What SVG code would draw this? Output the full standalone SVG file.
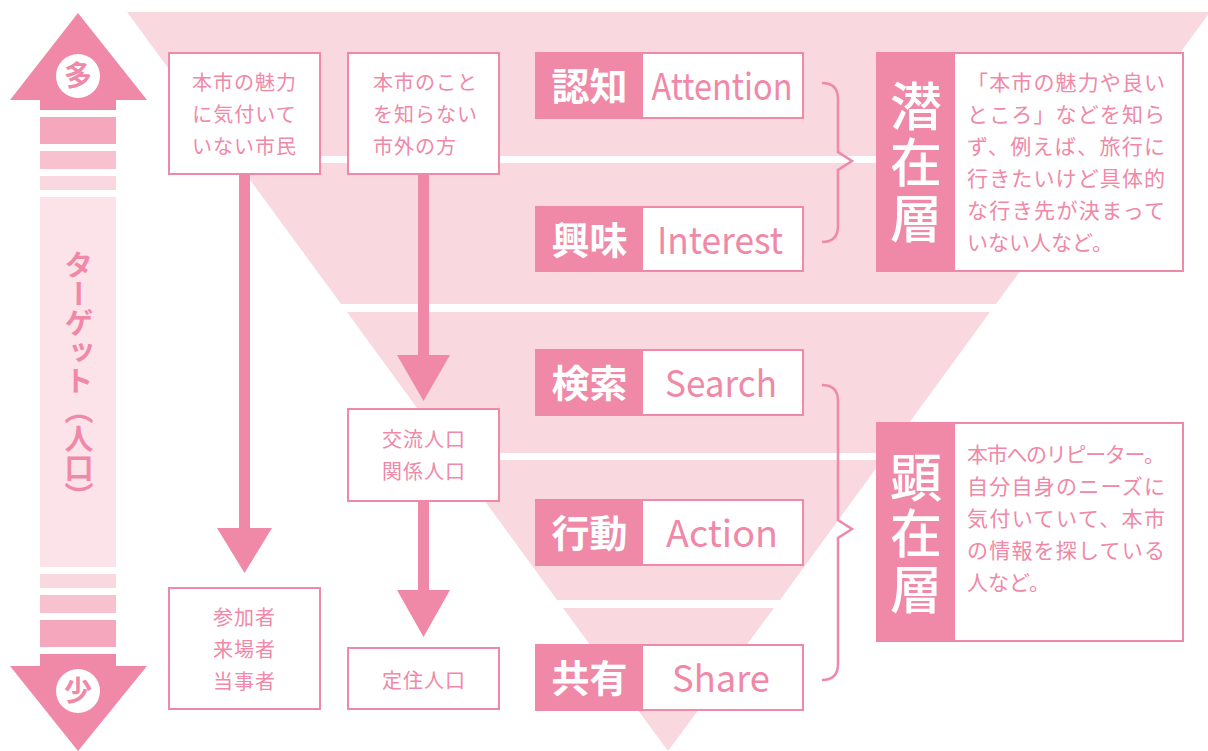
<svg xmlns="http://www.w3.org/2000/svg" width="1208" height="751" viewBox="0 0 1208 751">
<defs><style>
.pk{fill:#f088a7}
.fun{fill:#f9d8e0}
.bx{fill:#fff;stroke:#f088a7;stroke-width:2}
.jp{font-family:"Noto Sans CJK JP","Noto Sans",sans-serif}
.tp{fill:#f088a7}
.tw{fill:#fff}
.br{fill:none;stroke:#f088a7;stroke-width:2.5;stroke-linejoin:miter}
.lbl{font-size:38px;font-weight:700;fill:#fff;text-anchor:middle}
.en{font-size:37px;fill:#f088a7;text-anchor:middle}
.sm{font-size:20px;fill:#f088a7}
.ds{font-size:21px;fill:#f088a7}
.lay{font-size:52px;font-weight:500;fill:#fff;text-anchor:middle;writing-mode:vertical-rl;letter-spacing:4px}
</style></defs>
<rect width="1208" height="751" fill="#fff"/>

<g id="funnel">
<polygon class="fun" points="127,12 1210,12 996,304 341,304"/>
<polygon class="fun" points="347,312 990,312 780,600 557,600"/>
<polygon class="fun" points="563,608 774,608 668,751"/>
<rect x="150" y="156" width="1058" height="7" fill="#fff"/>
<rect x="150" y="453" width="1058" height="7" fill="#fff"/>
</g>

<g id="scale-arrow">
<polygon class="pk" points="78,13 147,100 10,100"/>
<rect class="pk" x="40" y="99" width="76" height="11"/>
<rect x="40" y="117" width="76" height="27" fill="#f5a8bd"/>
<rect x="40" y="151" width="76" height="18" fill="#f8c1cf"/>
<rect x="40" y="176" width="76" height="14" fill="#f9d8e0"/>
<rect x="40" y="197" width="76" height="370" fill="#fce3ea"/>
<rect x="40" y="574" width="76" height="14" fill="#f9d8e0"/>
<rect x="40" y="595" width="76" height="18" fill="#f8c1cf"/>
<rect x="40" y="620" width="76" height="27" fill="#f5a8bd"/>
<rect class="pk" x="40" y="654" width="76" height="13"/>
<polygon class="pk" points="10,666 147,666 78,751"/>
<circle cx="78" cy="76" r="22" fill="#fff"/>
<text class="jp tp" x="78" y="86" text-anchor="middle" font-size="28" font-weight="700">多</text>
<circle cx="78" cy="691" r="22" fill="#fff"/>
<text class="jp tp" x="78" y="701" text-anchor="middle" font-size="28" font-weight="700">少</text>
<text class="jp tp" x="79" y="381" style="writing-mode:vertical-rl" text-anchor="middle" font-size="29" font-weight="700">ターゲット（人口）</text>
</g>

<g id="connectors">
<rect class="pk" x="239" y="174" width="11" height="356"/>
<polygon class="pk" points="217,528 272,528 244.5,573"/>
<rect class="pk" x="418" y="174" width="11" height="183"/>
<polygon class="pk" points="397,355 450,355 423.5,401"/>
<rect class="pk" x="418" y="500" width="11" height="92"/>
<polygon class="pk" points="397,590 450,590 423.5,637"/>
<path class="br" d="M822,83 Q838,83 838,99 L838,152 L852,161 L838,170 L838,226 Q838,242 822,242"/>
<path class="br" d="M822,385 Q838,385 838,401 L838,520 L852,529 L838,538 L838,664 Q838,680 822,680"/>
</g>

<g id="node-unaware-citizens">
<rect class="bx" x="169" y="53" width="151" height="121"/>
<text class="jp sm" x="244.5" text-anchor="middle" letter-spacing="1"><tspan x="244.5" y="90">本市の魅力</tspan><tspan x="244.5" y="122">に気付いて</tspan><tspan x="244.5" y="154">いない市民</tspan></text>
</g>

<g id="node-outsiders">
<rect class="bx" x="348" y="53" width="151" height="121"/>
<text class="jp sm" letter-spacing="1"><tspan x="373" y="90">本市のこと</tspan><tspan x="373" y="122">を知らない</tspan><tspan x="373" y="154">市外の方</tspan></text>
</g>

<g id="node-exchange">
<rect class="bx" x="348" y="409" width="151" height="92"/>
<text class="jp sm" text-anchor="middle" letter-spacing="1"><tspan x="424" y="447">交流人口</tspan><tspan x="424" y="479">関係人口</tspan></text>
</g>

<g id="node-participants">
<rect class="bx" x="169" y="588" width="151" height="121"/>
<text class="jp sm" text-anchor="middle" letter-spacing="1"><tspan x="244.5" y="625">参加者</tspan><tspan x="244.5" y="657">来場者</tspan><tspan x="244.5" y="689">当事者</tspan></text>
</g>

<g id="node-settled">
<rect class="bx" x="348" y="648" width="151" height="61"/>
<text class="jp sm" x="424" y="688" text-anchor="middle" letter-spacing="1">定住人口</text>
</g>

<g id="stage-attention">
<rect class="bx" x="536" y="53" width="267" height="65"/>
<rect class="pk" x="536" y="53" width="107" height="65"/>
<text class="jp lbl" x="589.5" y="100">認知</text>
<text class="jp en" x="722" y="100" textLength="141" lengthAdjust="spacingAndGlyphs">Attention</text>
</g>

<g id="stage-interest">
<rect class="bx" x="536" y="207" width="267" height="64"/>
<rect class="pk" x="536" y="207" width="107" height="64"/>
<text class="jp lbl" x="589.5" y="254">興味</text>
<text class="jp en" x="720" y="254" textLength="126" lengthAdjust="spacingAndGlyphs">Interest</text>
</g>

<g id="stage-search">
<rect class="bx" x="536" y="350" width="267" height="65"/>
<rect class="pk" x="536" y="350" width="107" height="65"/>
<text class="jp lbl" x="589.5" y="397">検索</text>
<text class="jp en" x="721" y="397" textLength="112" lengthAdjust="spacingAndGlyphs">Search</text>
</g>

<g id="stage-action">
<rect class="bx" x="536" y="500" width="267" height="65"/>
<rect class="pk" x="536" y="500" width="107" height="65"/>
<text class="jp lbl" x="589.5" y="547">行動</text>
<text class="jp en" x="722" y="547" textLength="112" lengthAdjust="spacingAndGlyphs">Action</text>
</g>

<g id="stage-share">
<rect class="bx" x="536" y="645" width="267" height="65"/>
<rect class="pk" x="536" y="645" width="107" height="65"/>
<text class="jp lbl" x="589.5" y="692">共有</text>
<text class="jp en" x="721" y="692" textLength="98" lengthAdjust="spacingAndGlyphs">Share</text>
</g>

<g id="layer-latent">
<rect class="bx" x="877" y="53" width="306" height="218"/>
<rect class="pk" x="877" y="53" width="78" height="218"/>
<text class="jp lay" x="916" y="164">潜在層</text>
<text class="jp ds">
<tspan x="967" y="90" textLength="198">「本市の魅力や良い</tspan>
<tspan x="967" y="122" textLength="198">ところ」などを知ら</tspan>
<tspan x="967" y="154" textLength="198">ず、例えば、旅行に</tspan>
<tspan x="967" y="186" textLength="198">行きたいけど具体的</tspan>
<tspan x="967" y="218" textLength="198">な行き先が決まって</tspan>
<tspan x="967" y="250">いない人など。</tspan>
</text>
</g>

<g id="layer-manifest">
<rect class="bx" x="877" y="423" width="306" height="218"/>
<rect class="pk" x="877" y="423" width="78" height="218"/>
<text class="jp lay" x="916" y="535">顕在層</text>
<text class="jp ds">
<tspan x="967" y="462" textLength="198">本市へのリピーター。</tspan>
<tspan x="967" y="494" textLength="198">自分自身のニーズに</tspan>
<tspan x="967" y="526" textLength="198">気付いていて、本市</tspan>
<tspan x="967" y="558" textLength="198">の情報を探している</tspan>
<tspan x="967" y="590">人など。</tspan>
</text>
</g>
</svg>
